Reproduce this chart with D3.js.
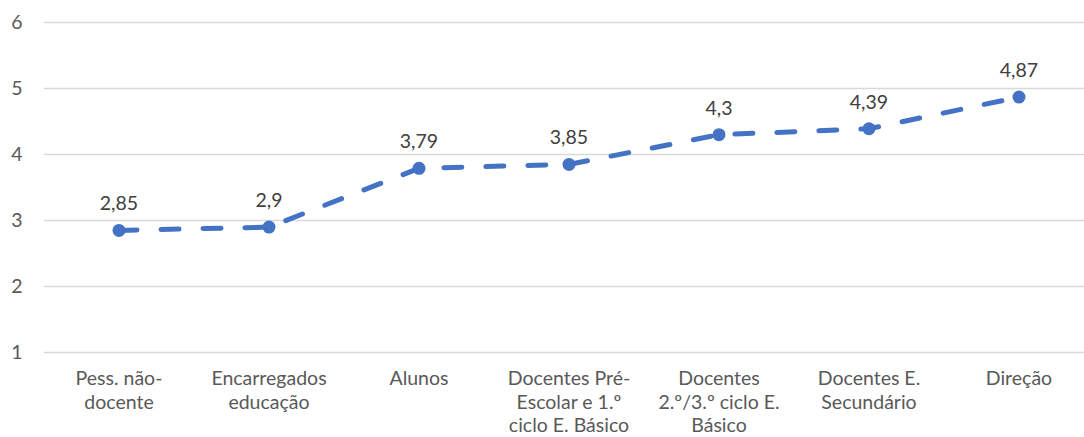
<!DOCTYPE html>
<html><head><meta charset="utf-8">
<script src="https://cdn.jsdelivr.net/npm/d3@7"></script>
<style>body{margin:0;background:#fff}svg{display:block}</style>
</head><body>
<svg id="c" width="1084" height="437"></svg>
<script>
const categories = [
  ["Pess. não-","docente"],
  ["Encarregados","educação"],
  ["Alunos"],
  ["Docentes Pré-","Escolar e 1.º","ciclo E. Básico"],
  ["Docentes","2.º/3.º ciclo E.","Básico"],
  ["Docentes E.","Secundário"],
  ["Direção"]
];
const values = [2.85, 2.9, 3.79, 3.85, 4.3, 4.39, 4.87];
const valueLabels = ["2,85","2,9","3,79","3,85","4,3","4,39","4,87"];
const yTicks = [1,2,3,4,5,6];

const svg = d3.select("#c");
const font = "Lato, 'Open Sans', sans-serif";
const x = d3.scaleBand().domain(d3.range(categories.length)).range([44, 1094]).padding(0);
const y = d3.scaleLinear().domain([1,6]).range([352.5, 22.5]);
const cx = i => x(i) + x.bandwidth()/2;

// gridlines
svg.append("g").selectAll("line").data(yTicks).join("line")
  .attr("x1",44).attr("x2",1084)
  .attr("y1",d=>y(d)).attr("y2",d=>y(d))
  .attr("stroke","#d9d9d9").attr("stroke-width",1.5);

// y labels
svg.append("g").selectAll("text").data(yTicks).join("text")
  .attr("x",17).attr("y",d=>y(d)).attr("dy","0.35em")
  .attr("text-anchor","middle").attr("fill","#595959")
  .style("font-family",font).style("font-size","19.5px")
  .text(d=>d);

// x labels
const xl = svg.append("g").selectAll("text").data(categories).join("text")
  .attr("text-anchor","middle").attr("fill","#595959")
  .style("font-family",font).style("font-size","19.5px");
xl.each(function(lines,i){
  d3.select(this).selectAll("tspan").data(lines).join("tspan")
    .attr("x",cx(i)).attr("y",(d,j)=>385 + j*23.5).text(d=>d);
});

// line
const line = d3.line().x((d,i)=>cx(i)).y(d=>y(d));
svg.append("path").datum(values).attr("d",line)
  .attr("fill","none").attr("stroke","#4472C4").attr("stroke-width",5)
  .attr("stroke-linecap","round").attr("stroke-dasharray","18,24");

svg.append("g").selectAll("circle").data(values).join("circle")
  .attr("cx",(d,i)=>cx(i)).attr("cy",d=>y(d)).attr("r",6.5)
  .attr("fill","#4472C4");

// data labels
svg.append("g").selectAll("text").data(values).join("text")
  .attr("x",(d,i)=>cx(i)).attr("y",d=>y(d)-27).attr("dy","0.35em")
  .attr("text-anchor","middle").attr("fill","#404040")
  .style("font-family",font).style("font-size","19.5px")
  .text((d,i)=>valueLabels[i]);
</script>
</body></html>
